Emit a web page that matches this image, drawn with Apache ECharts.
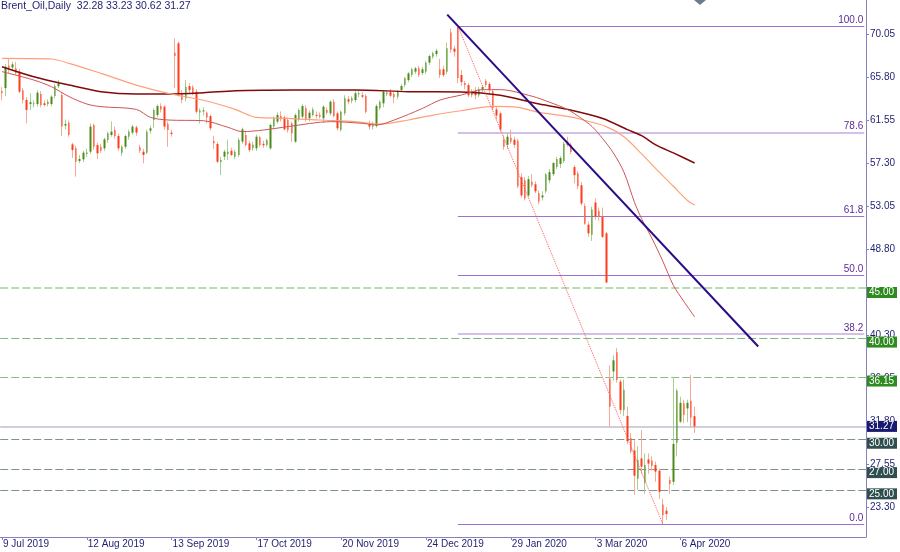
<!DOCTYPE html>
<html><head><meta charset="utf-8">
<script src="https://cdn.jsdelivr.net/npm/echarts@6/dist/echarts.min.js"></script>
<style>html,body{margin:0;padding:0;background:#fff}#c{width:900px;height:552px}</style>
</head><body><div id="c"></div>
<script>
// ---------------- DATA ----------------
const titleText = 'Brent_Oil,Daily  32.28 33.23 30.62 31.27';
const startDate = [2019, 6, 9];            // 9 Jul 2019
const holidays = ['2019-12-25', '2020-01-01'];
const barCount = 197;
const futureBars = 48;
const opens = [
64.4,64.7,66.9,66.75,66.66,66.33,64.5,63.53,63.13,63.1,
63.13,64.12,63.2,63.13,63.13,63.92,64.9,64.02,61.0,61.29,
59.14,58.75,57.5,57.66,58.2,58.42,61.06,59.08,58.9,58.75,
59.57,60.07,60.56,59.97,58.32,58.91,59.9,60.3,60.82,58.85,
58.42,58.32,60.5,61.55,62.04,62.93,62.87,61.15,60.3,68.2,
69.13,64.19,63.69,64.9,64.78,64.35,62.3,62.4,62.27,61.94,
59.47,59.18,57.4,57.93,58.2,58.5,57.93,58.09,59.41,60.07,
59.24,58.75,58.75,59.84,59.2,59.08,58.75,60.9,61.39,61.94,
61.81,61.55,61.22,59.41,61.55,61.88,62.7,61.72,62.04,62.04,
62.04,61.72,62.54,62.21,63.36,62.21,60.56,62.21,63.6,63.46,
63.53,64.1,64.0,63.92,61.15,60.9,60.96,62.7,63.2,64.1,
64.3,64.1,63.86,64.52,65.01,65.5,65.99,66.33,66.66,66.2,
66.33,67.22,67.81,68.07,66.56,66.56,66.33,70.2,68.6,70.8,
66.0,65.2,65.0,64.0,64.4,64.0,64.6,65.4,65.1,64.4,
62.6,62.2,59.6,59.1,59.8,59.6,59.5,55.9,55.6,54.1,
55.45,55.2,54.3,53.9,54.5,55.6,56.2,56.9,57.2,57.5,
59.4,59.1,56.9,56.3,55.1,53.05,51.2,50.2,53.4,52.55,
52.0,50.35,36.0,36.7,38.6,35.7,32.9,32.3,30.1,28.9,
26.1,28.1,25.7,28.0,27.9,27.45,26.9,23.56,22.94,25.97,
25.8,29.66,31.74,33.55,33.05,33.8,32.28];
const highs = [
64.8,67.1,67.6,67.3,67.3,66.6,64.7,63.8,64.2,63.5,
64.5,64.4,63.5,63.6,64.0,65.1,65.5,64.3,61.6,61.5,
59.3,59.0,58.1,58.5,58.7,61.2,61.2,59.3,59.2,59.8,
60.4,61.4,60.9,60.2,59.1,60.1,60.6,61.1,61.0,59.1,
58.7,60.6,61.0,62.7,63.1,63.2,63.0,61.4,60.6,69.62,
69.3,64.5,65.5,65.2,65.0,64.6,62.7,62.8,62.4,62.1,
60.0,59.4,57.9,58.6,59.6,58.8,58.6,59.8,60.8,60.4,
59.5,59.4,60.1,60.0,59.5,59.7,61.2,61.9,62.3,62.4,
62.0,61.8,61.4,62.2,62.7,63.1,63.0,62.5,62.8,62.4,
62.3,63.0,62.8,63.5,63.6,62.4,62.5,64.0,63.9,63.9,
64.4,64.4,64.3,64.1,61.5,61.4,63.1,63.5,64.5,64.5,
64.6,64.3,64.5,65.1,65.8,66.3,66.7,66.8,66.9,66.8,
67.4,68.0,68.3,68.6,67.6,66.9,69.2,70.6,68.9,70.84,
66.5,65.4,65.2,64.6,64.8,64.8,65.0,65.6,65.3,64.6,
62.9,62.4,60.0,60.3,60.6,59.9,59.7,56.3,55.9,56.0,
56.2,55.5,54.6,54.5,56.3,56.7,57.4,57.9,58.0,59.4,
59.9,59.3,57.1,56.5,55.4,53.3,51.5,53.0,53.8,52.9,
52.9,50.5,37.3,38.3,39.0,35.9,35.9,33.2,30.6,29.9,
29.3,30.9,28.6,28.6,28.3,27.8,27.1,24.1,23.3,26.3,
36.15,35.0,34.2,33.9,33.9,36.35,33.23];
const lows = [
63.5,63.9,66.2,66.4,66.0,64.2,63.2,61.22,62.5,62.8,
62.9,62.8,62.9,62.9,62.9,63.7,64.7,59.97,60.6,59.9,
57.8,55.95,57.3,57.4,57.9,58.2,58.6,57.7,58.3,58.5,
59.3,59.9,59.7,58.5,58.0,58.7,59.6,60.1,60.0,58.3,
57.27,58.2,60.2,60.8,61.8,62.3,60.6,58.9,59.9,64.68,
63.9,63.2,63.4,64.2,64.0,62.2,61.2,62.0,61.2,60.5,
58.7,57.3,56.1,57.6,57.6,58.0,57.7,57.9,59.2,58.9,
58.4,58.5,58.5,58.9,58.8,58.9,58.6,60.7,61.2,61.4,
60.5,60.3,59.4,59.3,61.4,61.7,61.4,61.4,61.9,61.7,
61.7,61.3,62.1,62.0,61.8,60.5,60.4,62.0,63.1,63.2,
63.3,63.8,63.7,62.2,60.6,60.6,60.8,62.5,62.8,63.9,
63.8,63.2,63.6,64.3,64.8,65.3,65.8,66.1,65.8,66.0,
66.1,67.0,67.6,67.8,65.7,65.8,66.1,68.2,67.8,65.2,
64.9,64.6,63.8,63.8,63.6,63.8,64.3,64.8,64.2,62.5,
61.6,60.4,58.6,58.7,59.2,58.8,54.8,53.9,53.6,53.9,
54.9,54.3,53.2,53.6,54.3,55.3,56.0,56.7,56.8,57.3,
58.9,58.2,55.3,54.7,53.1,51.2,50.0,49.6,51.7,51.6,
49.9,45.4,31.2,35.8,35.6,32.5,32.3,29.5,28.6,24.5,
25.0,26.6,24.6,26.6,26.9,25.8,24.1,21.62,22.0,24.6,
25.5,28.3,31.6,31.6,31.7,31.2,30.62];
const closes = [
64.2,66.8,66.7,67.05,66.16,64.35,63.53,62.54,63.3,63.2,
64.25,63.03,63.03,63.35,63.86,64.9,65.17,60.9,61.15,60.07,
58.58,57.43,57.7,58.32,58.35,60.9,58.91,58.26,58.5,59.64,
60.23,60.4,59.97,58.75,58.91,59.97,60.4,60.9,60.3,58.52,
58.09,60.4,60.73,62.54,62.93,62.6,60.9,60.56,60.17,67.87,
64.19,63.53,64.84,64.5,64.19,62.37,62.5,62.5,61.81,60.73,
59.25,57.43,57.6,58.42,58.42,58.1,58.4,59.57,60.63,59.08,
58.58,59.1,59.9,59.08,59.05,59.57,61.06,61.72,62.04,61.62,
60.63,60.56,60.23,62.04,62.54,62.93,61.62,62.27,62.6,61.95,
61.88,62.87,62.27,63.36,61.94,60.73,62.37,63.69,63.36,63.69,
64.19,64.19,63.85,62.37,60.9,61.1,62.93,63.36,64.35,64.25,
63.95,63.8,64.35,64.91,65.67,66.16,66.56,66.66,65.99,66.56,
67.22,67.87,68.14,68.4,65.99,65.99,68.63,68.5,68.3,65.7,
65.3,65.0,64.0,64.4,64.0,64.6,64.8,65.0,64.5,62.7,
62.0,60.6,58.9,59.9,59.4,59.1,55.0,54.1,53.8,55.7,
55.1,54.5,53.5,54.1,56.2,56.4,57.3,57.7,57.8,59.2,
59.1,58.4,56.1,55.0,53.3,51.3,50.35,52.7,52.0,52.0,
50.0,45.5,33.2,37.8,35.85,32.9,34.9,29.8,28.8,26.4,
27.95,27.3,27.45,27.6,27.35,26.8,24.8,22.5,22.61,25.57,
29.53,34.8,33.6,32.4,33.6,32.16,31.27];
// moving averages: [bar index, value]
const ma50 = [[0,66.33],[9,65.5],[14,64.84],[19,63.86],[24,63.13],[28,62.87],[38,62.6],[42,61.81],[47,61.55],[57,61.48],[64,60.82],[68,60.4],[74,60.56],[81,60.9],[93,61.39],[102,61.22],[106,61.06],[111,61.55],[119,62.7],[124,63.53],[130,64.02],[136,64.55],[141,64.55],[150,63.9],[155,63.3],[160,62.6],[164,61.7],[167,60.9],[170,59.7],[173,58.3],[176,56.4],[179,53.4],[181,51.8],[184,49.8],[187,47.6],[190,45.2],[193,43.6],[196,42.1]];
const ma100 = [[0,67.64],[14,67.58],[19,67.15],[28,66.16],[38,65.0],[47,64.19],[57,63.5],[66,62.6],[72,61.81],[81,61.72],[90,61.55],[100,61.39],[107,61.15],[115,61.55],[122,62.04],[130,62.47],[139,62.9],[146,62.8],[152,62.3],[160,61.9],[164,61.6],[171,60.9],[176,59.9],[181,58.2],[186,56.4],[190,55.0],[194,53.6],[196,53.15]];
const ma200 = [[0,66.82],[9,65.83],[19,65.0],[28,64.35],[38,64.12],[47,64.12],[57,64.25],[66,64.45],[75,64.5],[90,64.52],[100,64.52],[115,64.35],[130,64.32],[141,64.0],[151,63.2],[160,62.6],[170,61.7],[177,60.6],[181,60.0],[185,59.1],[190,58.3],[196,57.3]];
const yTickLabels = [23.30,27.55,31.80,36.05,40.30,44.55,48.80,53.05,57.30,61.55,65.80,70.05];
const yRange = [20.34, 73.41];
const fibHigh = [129, 70.84];
const fibLow = [187, 21.62];
const fibPercents = [100.0, 78.6, 61.8, 50.0, 38.2, 0.0];
const trendLine = [[126, 71.96], [214, 39.17]];
const greenLevels = [45.00, 40.00, 36.15];
const grayLevels = [30.00, 27.00, 25.00];
const bidPrice = 31.27;

// ---------------- BUILD ----------------
const FONT = '"Liberation Sans", Arial, sans-serif';
const TXT = '#1f1f70';
const AX = '#8a80c0';
const UP = '#4a8a1a', DN = '#ff3b1b', WUP = '#a8cf92', WDN = '#f6aa98';
const months = ['Jan','Feb','Mar','Apr','May','Jun','Jul','Aug','Sep','Oct','Nov','Dec'];
const cats = [];
{
  const d = new Date(Date.UTC(startDate[0], startDate[1], startDate[2]));
  while (cats.length < barCount) {
    const dow = d.getUTCDay();
    const iso = d.toISOString().slice(0, 10);
    if (dow !== 0 && dow !== 6 && !holidays.includes(iso)) {
      cats.push(d.getUTCDate() + ' ' + months[d.getUTCMonth()] + ' ' + d.getUTCFullYear());
    }
    d.setUTCDate(d.getUTCDate() + 1);
  }
  for (let i = 0; i < futureBars; i++) cats.push('F' + i);
}
const lastIdx = cats.length - 1;
const showIdx = (i) => i % 24 === 0 && i < barCount;

const wickData = opens.map((o, i) => [o, closes[i], lows[i], highs[i]]);
const bodyData = opens.map((o, i) => [o, closes[i], Math.min(o, closes[i]), Math.max(o, closes[i])]);

const hLine = (v, color, width, type, box, dy) => ({
  yAxis: v,
  lineStyle: { color, width, type },
  label: { show: true, position: 'end', distance: 1, formatter: v.toFixed(2), offset: [0, dy],
    backgroundColor: box, color: '#fff', padding: [0, 3, 0, 2], lineHeight: 11, fontSize: 10, fontFamily: FONT }
});
const hLines = [
  hLine(greenLevels[0], '#b7dcb5', 2, [8, 3], '#2e8b1f', 5),
  hLine(greenLevels[1], '#79bb77', 1, [8, 3], '#2e8b1f', 4),
  hLine(greenLevels[2], '#8ab98a', 1, [8, 3], '#2e8b1f', 4),
  hLine(grayLevels[0], '#7f938e', 1, [8, 3], '#2f4f4f', 4),
  hLine(grayLevels[1], '#7f938e', 1, [8, 3], '#2f4f4f', 3),
  hLine(grayLevels[2], '#7f938e', 1, [8, 3], '#2f4f4f', 4),
  hLine(bidPrice, '#cdd0da', 2, 'solid', '#191970', 0)
];
const fibLines = fibPercents.map((p) => {
  const price = fibLow[1] + p / 100 * (fibHigh[1] - fibLow[1]);
  const light = (p === 78.6 || p === 38.2);
  return [{
    coord: [fibHigh[0], price],
    lineStyle: { color: light ? '#d2c0e6' : '#9b72cf', width: light ? 2 : 1, type: 'solid' },
    label: { show: true, position: 'insideEndTop', distance: 1, formatter: p.toFixed(1),
      color: '#5b2b95', fontSize: 10, fontFamily: FONT }
  }, { coord: [lastIdx, price] }];
});

const chart = echarts.init(document.getElementById('c'), null, { renderer: 'canvas' });
chart.setOption({
  animation: false,
  backgroundColor: '#ffffff',
  title: { text: titleText, left: 1, top: 1, padding: 0,
    textStyle: { fontSize: 10.5, fontWeight: 'normal', color: TXT, fontFamily: FONT } },
  grid: { left: -2.47, right: 34, top: 0, bottom: 15, containLabel: false },
  xAxis: {
    type: 'category', data: cats, boundaryGap: true,
    axisLine: { show: true, lineStyle: { color: AX, width: 1 } },
    axisTick: { show: true, alignWithLabel: true, interval: (i) => showIdx(i), length: 3, lineStyle: { color: AX } },
    axisLabel: { interval: (i) => showIdx(i), align: 'left', margin: 2, color: TXT, fontSize: 10, fontFamily: FONT, padding: [0, 0, 0, 1] },
    splitLine: { show: false }
  },
  yAxis: {
    type: 'value', position: 'right', min: yRange[0], max: yRange[1],
    axisLine: { show: true, lineStyle: { color: AX, width: 1 } },
    axisTick: { show: true, customValues: yTickLabels, length: 3, lineStyle: { color: AX } },
    axisLabel: { customValues: yTickLabels, formatter: (v) => v.toFixed(2), margin: 4, color: TXT, fontSize: 10, fontFamily: FONT },
    splitLine: { show: false }
  },
  graphic: [{ type: 'polygon', shape: { points: [[694, 0], [706, 0], [700, 5]] }, style: { fill: '#6b7b8b' }, z: 100 }],
  series: [
    { type: 'candlestick', name: 'wicks', data: wickData, barWidth: 1, z: 3,
      itemStyle: { color: WUP, color0: WDN, borderColor: WUP, borderColor0: WDN, borderWidth: 1 },
      markLine: { silent: true, symbol: 'none', data: hLines.concat(fibLines), z: 1 } },
    { type: 'candlestick', name: 'bodies', data: bodyData, barWidth: 2, z: 4,
      itemStyle: { color: UP, color0: DN, borderColor: UP, borderColor0: DN, borderWidth: 0 } },
    { type: 'line', name: 'MA200', data: ma200, smooth: 0.3, symbol: 'none', z: 5,
      lineStyle: { color: '#800a0a', width: 1.5 } },
    { type: 'line', name: 'MA100', data: ma100, smooth: 0.3, symbol: 'none', z: 5,
      lineStyle: { color: '#ffa07a', width: 1.2 } },
    { type: 'line', name: 'MA50', data: ma50, smooth: 0.3, symbol: 'none', z: 5,
      lineStyle: { color: '#cc5555', width: 1 } },
    { type: 'line', name: 'fibTrend', data: [fibHigh, fibLow], symbol: 'none', z: 5,
      lineStyle: { color: '#ff5a5a', width: 1, type: 'dotted' } },
    { type: 'line', name: 'trend', data: trendLine, symbol: 'none', z: 6,
      lineStyle: { color: '#2b0c86', width: 2 } }
  ]
});
</script></body></html>
